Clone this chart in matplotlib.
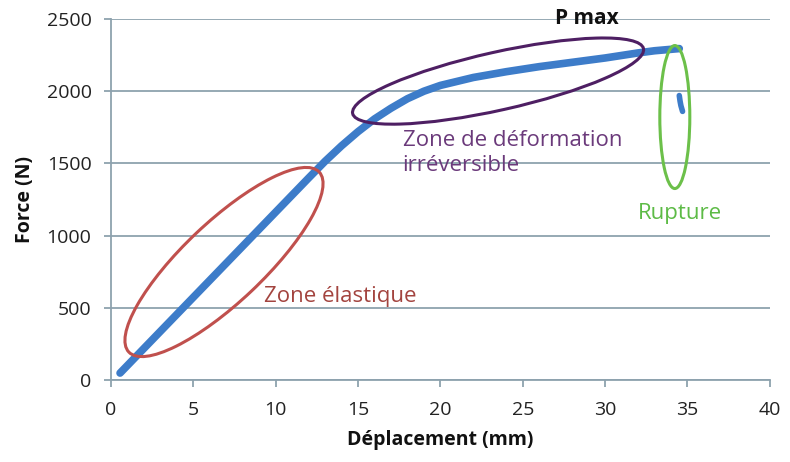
import numpy as np
import matplotlib
matplotlib.use("Agg")
import matplotlib.pyplot as plt
import matplotlib.transforms as mtrans
from matplotlib.patches import Ellipse

plt.rcParams['font.family'] = ['Open Sans', 'DejaVu Sans']

# courbe force / deplacement
deplacement = [0.55, 1, 2, 3, 4, 5, 6, 7, 8, 9, 10, 11, 12, 13, 14, 15,
               16, 17, 18, 19, 20, 22, 24, 26, 28, 30, 32, 33, 34, 34.5]
force = [48, 101, 219, 337, 455, 573, 691, 809, 927, 1045, 1163, 1281, 1399,
         1515, 1622, 1720, 1808, 1882, 1948, 2000, 2040, 2095, 2135,
         2170, 2200, 2230, 2265, 2280, 2290, 2295]

# points apres rupture
rupt_x = [34.5, 34.55, 34.6, 34.65, 34.7]
rupt_y = [1970, 1930, 1900, 1880, 1860]

xticks = [0, 5, 10, 15, 20, 25, 30, 35, 40]
yticks = [0, 500, 1000, 1500, 2000, 2500]

bleu = '#3D7CC9'
gris = '#8EA2AE'

fig = plt.figure(figsize=(7.9, 4.62), dpi=100)
ax = fig.add_axes([0.1405, 0.1775, 0.834, 0.7814])

ax.plot(deplacement, force, color=bleu, lw=5.5, solid_capstyle='round', zorder=3)
ax.plot(rupt_x, rupt_y, color=bleu, lw=4, solid_capstyle='round', zorder=3)

ax.set_xlim(0, 40)
ax.set_ylim(0, 2500)
ax.set_xticks(xticks)
ax.set_yticks(yticks)
ax.grid(axis='y', color=gris, lw=1.3)
ax.set_axisbelow(True)
for s in ['top', 'right']:
    ax.spines[s].set_visible(False)
for s in ['left', 'bottom']:
    ax.spines[s].set_color(gris)
    ax.spines[s].set_linewidth(1.3)
ax.tick_params(colors=gris, labelcolor='#222222', labelsize=14, length=5, width=1.3)
ax.tick_params(axis='x', pad=10)
ax.tick_params(axis='y', pad=9)

ax.set_xlabel('Déplacement (mm)', fontsize=14, fontweight='bold', color='#111111', labelpad=8)
ax.set_ylabel('Force (N)', fontsize=14, fontweight='bold', color='#111111', labelpad=8)

# ellipses (tailles en pixels, centre en donnees)
def ellipse(cx, cy, w, h, ang, col):
    tr = fig.dpi_scale_trans + mtrans.ScaledTranslation(cx, cy, ax.transData)
    e = Ellipse((0, 0), w / 100, h / 100, angle=ang, transform=tr,
                fill=False, edgecolor=col, lw=2.2, zorder=4)
    ax.add_patch(e)

ellipse(6.86, 817, 262, 80, 43.4, '#C0504D')
ellipse(23.5, 2070, 298, 58, 12.6, '#4E1F63')
ellipse(34.23, 1821, 30, 143, 0, '#6CC04A')

ax.text(28.9, 2500, 'P max', fontsize=15, fontweight='bold', color='#111111',
        ha='center', va='center')
ax.text(17.7, 1572, 'Zone de déformation\nirréversible', fontsize=16, color='#6B3A7B',
        ha='left', va='center', linespacing=1.3)
ax.text(32.0, 1156, 'Rupture', fontsize=16, color='#5DBB46', ha='left', va='center')
ax.text(9.3, 575, 'Zone élastique', fontsize=16, color='#A3443F', ha='left', va='center')

fig.savefig('out.png', dpi=100)
